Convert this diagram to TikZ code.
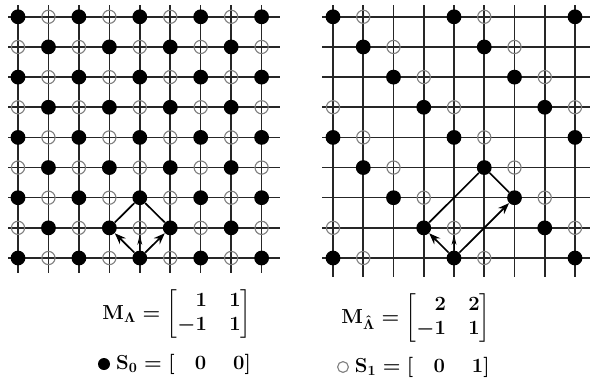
\documentclass[tikz,border=0pt]{standalone}
\usepackage{amsmath}
\usepackage{mathtools}
\usepackage{tikz}
\usetikzlibrary{positioning,arrows.meta,calc}

\tikzset{
  gridline/.style={draw=black!85,line width=1.1pt},
  fdot/.style={circle,fill=black,inner sep=0pt,minimum size=0.37cm},
  odot/.style={circle,draw=black!50,line width=0.8pt,inner sep=0pt,minimum size=0.33cm},
  vec/.style={-{Stealth[length=8pt,width=6pt]},line width=1.2pt},
  cell/.style={line width=1.2pt},
  tick/.style={-{Stealth[open,length=7pt,width=3.5pt]},line width=0.5pt},
  lab/.style={font=\fontsize{14.5}{17}\selectfont\boldmath,inner sep=1pt}
}

\begin{document}
\begin{tikzpicture}[x=0.025cm,y=-0.025cm]
\useasboundingbox (0,0) rectangle (590,383);
% grid lines, left and right
\foreach \k in {0,...,8} {
  \draw[gridline] (8,{258-30.15*\k}) -- (280,{258-30.15*\k});
  \draw[gridline] ({18+30.45*\k},5) -- ({18+30.45*\k},273);
  \draw[gridline] (322,{258-30.15*\k}) -- (590,{258-30.15*\k});
  \draw[gridline] ({333+30.25*\k},5) -- ({333+30.25*\k},277);
}
% lattice points: S_0 filled, S_1 open
\foreach \i in {0,...,8} {
  \foreach \j in {0,...,8} {
    \pgfmathtruncatemacro\s{mod(\i+\j,2)}
    \ifnum\s=0
      \node[fdot] (a-\i-\j) at ({18+30.45*\i},{258-30.15*\j}) {};
    \else
      \node[odot] (a-\i-\j) at ({18+30.45*\i},{258-30.15*\j}) {};
    \fi
    \pgfmathtruncatemacro\t{mod(\i+\j,4)}
    \ifnum\t=0
      \node[fdot] (b-\i-\j) at ({333+30.25*\i},{258-30.15*\j}) {};
    \fi
    \ifnum\t=1
      \node[odot] (b-\i-\j) at ({333+30.25*\i},{258-30.15*\j}) {};
    \fi
  }
}
% basis vectors and unit cells
\draw[vec] (a-4-0) -- (a-3-1);
\draw[vec] (a-4-0) -- (a-5-1);
\draw[cell] (a-3-1) -- (a-4-2) -- (a-5-1);
\draw[tick] (a-4-0) -- (a-4-1);
\draw[vec] (b-4-0) -- (b-3-1);
\draw[vec] (b-4-0) -- (b-6-2);
\draw[cell] (b-3-1) -- (b-5-3) -- (b-6-2);
\draw[tick] (b-4-0) -- (b-4-1);
% generator matrices and shifts
\node[lab] (ma) at (177,314) {$\mathrm{M}_{\Lambda} = \setlength\arraycolsep{8pt}\begin{bmatrix*}[r] 1 & 1\\ -1 & 1\end{bmatrix*}$};
\node[lab] (mb) at (416,318) {$\mathrm{M}_{\hat{\Lambda}} = \setlength\arraycolsep{8pt}\begin{bmatrix*}[r] 2 & 2\\ -1 & 1\end{bmatrix*}$};
\node[fdot,minimum size=0.3cm] (ka) at (104,364) {};
\node[lab,right=3pt of ka] (sa) {$\mathrm{S}_0 = [\quad 0\quad\; 0]$};
\node[odot,minimum size=0.27cm] (kb) at (343,367) {};
\node[lab,right=3pt of kb] (sb) {$\mathrm{S}_1 = [\quad 0\quad\; 1]$};
\end{tikzpicture}
\end{document}
